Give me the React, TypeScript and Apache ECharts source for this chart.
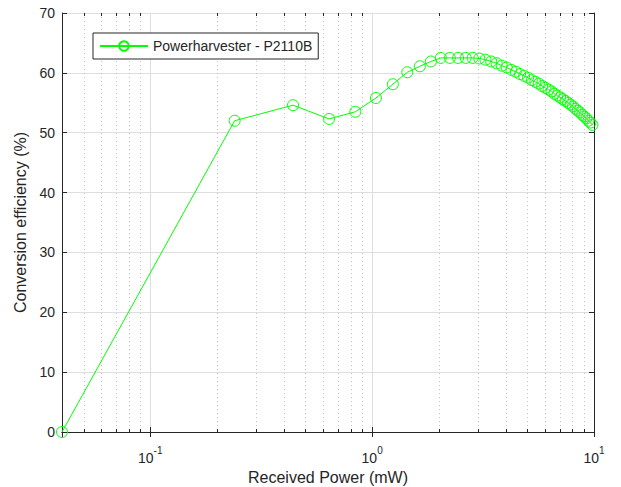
import React, { useEffect, useRef } from "react";
import * as echarts from "echarts";

const powerMW = [
  0.04, 0.24, 0.44, 0.64, 0.84, 1.04, 1.24, 1.44, 1.64, 1.84,
  2.04, 2.24, 2.44, 2.64, 2.84, 3.04, 3.24, 3.44, 3.64, 3.84,
  4.04, 4.24, 4.44, 4.64, 4.84, 5.04, 5.24, 5.44, 5.64, 5.84,
  6.04, 6.24, 6.44, 6.64, 6.84, 7.04, 7.24, 7.44, 7.64, 7.84,
  8.04, 8.24, 8.44, 8.64, 8.84, 9.04, 9.24, 9.44, 9.64, 9.84,
];
const efficiency = [
  0, 52.0, 54.6, 52.3, 53.5, 55.8, 58.1, 60.1, 61.1, 61.9,
  62.5, 62.5, 62.5, 62.5, 62.5, 62.4, 62.2, 61.9, 61.6, 61.2,
  60.9, 60.5, 60.2, 59.8, 59.5, 59.2, 58.8, 58.5, 58.2, 57.8,
  57.5, 57.2, 56.9, 56.5, 56.2, 55.9, 55.6, 55.3, 55.0, 54.7,
  54.4, 54.0, 53.7, 53.4, 53.0, 52.7, 52.4, 52.0, 51.7, 51.3,
];
const minorTicks = [
  0.05, 0.06, 0.07, 0.08, 0.09,
  0.2, 0.3, 0.4, 0.5, 0.6, 0.7, 0.8, 0.9,
  2, 3, 4, 5, 6, 7, 8, 9,
];
const seriesName = "Powerharvester - P2110B";
const xTitle = "Received Power (mW)";
const yTitle = "Conversion efficiency (%)";

const FONT = "'Liberation Sans', Arial, Helvetica, sans-serif";
const INK = "#262626";
const GREEN = "#00ff00";

export default function App() {
  const ref = useRef<HTMLDivElement>(null);
  useEffect(() => {
    if (!ref.current) return;
    const chart = echarts.init(ref.current, null, { renderer: "svg" });
    const points = powerMW.map((x, i) => [x, efficiency[i]]);
    const logLabel = (v: number) => {
      const l = Math.log10(v);
      const e = Math.round(l);
      if (Math.abs(l - e) > 1e-6) return "";
      return `{b|10}{s|${e}}`;
    };
    chart.setOption({
      animation: false,
      backgroundColor: "#ffffff",
      textStyle: { fontFamily: FONT, color: INK },
      grid: {
        left: 62,
        right: 27,
        top: 13,
        bottom: 55,
        containLabel: false,
        outerBoundsMode: "none",
      },
      legend: {
        left: 93,
        top: 33,
        padding: [6, 6, 6, 6],
        itemWidth: 48,
        itemHeight: 12,
        borderColor: INK,
        borderWidth: 1,
        backgroundColor: "#ffffff",
        textStyle: { fontFamily: FONT, fontSize: 14, color: INK },
        data: [seriesName],
      },
      xAxis: [
        {
          type: "log",
          logBase: 10,
          min: 0.04,
          max: 10,
          position: "bottom",
          name: xTitle,
          nameLocation: "middle",
          nameGap: 35,
          nameTextStyle: { fontFamily: FONT, fontSize: 16, color: INK },
          axisLine: { show: true, lineStyle: { color: INK, width: 1 } },
          axisTick: { show: true, inside: true, length: 5, lineStyle: { color: INK } },
          axisLabel: {
            margin: 13,
            formatter: logLabel,
            rich: {
              b: { fontFamily: FONT, fontSize: 14, color: INK, lineHeight: 20, verticalAlign: "bottom" },
              s: { fontFamily: FONT, fontSize: 10, color: INK, lineHeight: 12, verticalAlign: "top" },
            },
          },
          splitLine: { show: true, lineStyle: { color: "#dedede", width: 1 } },
        },
        {
          type: "log",
          logBase: 10,
          min: 0.04,
          max: 10,
          position: "top",
          axisLine: { show: true, lineStyle: { color: INK, width: 1 } },
          axisTick: { show: true, inside: true, length: 5, lineStyle: { color: INK } },
          axisLabel: { show: false },
          splitLine: { show: false },
        },
      ],
      yAxis: [
        {
          type: "value",
          min: 0,
          max: 70,
          interval: 10,
          position: "left",
          name: yTitle,
          nameLocation: "middle",
          nameGap: 30,
          nameRotate: 90,
          nameTextStyle: { fontFamily: FONT, fontSize: 16, color: INK },
          axisLine: { show: true, lineStyle: { color: INK, width: 1 } },
          axisTick: { show: true, inside: true, length: 5, lineStyle: { color: INK } },
          axisLabel: { margin: 7, fontFamily: FONT, fontSize: 14, color: INK },
          splitLine: { show: true, lineStyle: { color: "#dedede", width: 1 } },
        },
        {
          type: "value",
          min: 0,
          max: 70,
          interval: 10,
          position: "right",
          axisLine: { show: true, lineStyle: { color: INK, width: 1 } },
          axisTick: { show: true, inside: true, length: 5, lineStyle: { color: INK } },
          axisLabel: { show: false },
          splitLine: { show: false },
        },
      ],
      series: [
        {
          type: "custom",
          name: "minor",
          silent: true,
          xAxisIndex: 0,
          yAxisIndex: 0,
          z: 1,
          clip: false,
          encode: { x: 0, y: 1 },
          data: minorTicks.map((v) => [v, 0]),
          renderItem: (params: any, api: any) => {
            const cs = params.coordSys;
            const x = Math.round(api.coord([api.value(0), 0])[0]) + 0.5;
            const top = cs.y;
            const bottom = cs.y + cs.height;
            return {
              type: "group",
              children: [
                {
                  type: "line",
                  shape: { x1: x, y1: top, x2: x, y2: bottom },
                  style: { stroke: "#c4c4c4", lineWidth: 1, lineDash: [1, 3] },
                },
                {
                  type: "line",
                  shape: { x1: x, y1: bottom, x2: x, y2: bottom - 3 },
                  style: { stroke: INK, lineWidth: 1 },
                },
                {
                  type: "line",
                  shape: { x1: x, y1: top, x2: x, y2: top + 3 },
                  style: { stroke: INK, lineWidth: 1 },
                },
              ],
            };
          },
        },
        {
          type: "line",
          name: seriesName,
          xAxisIndex: 0,
          yAxisIndex: 0,
          z: 5,
          data: points,
          symbol: "circle",
          symbolSize: 11,
          showSymbol: true,
          clip: false,
          lineStyle: { color: GREEN, width: 1 },
          itemStyle: { color: "rgba(0,0,0,0)", borderColor: GREEN, borderWidth: 1 },
          emphasis: { disabled: true },
        },
      ],
    });
    return () => chart.dispose();
  }, []);
  return (
    <div
      ref={ref}
      style={{ position: "fixed", left: 0, top: 0, width: 621, height: 487, background: "#fff" }}
    />
  );
}
